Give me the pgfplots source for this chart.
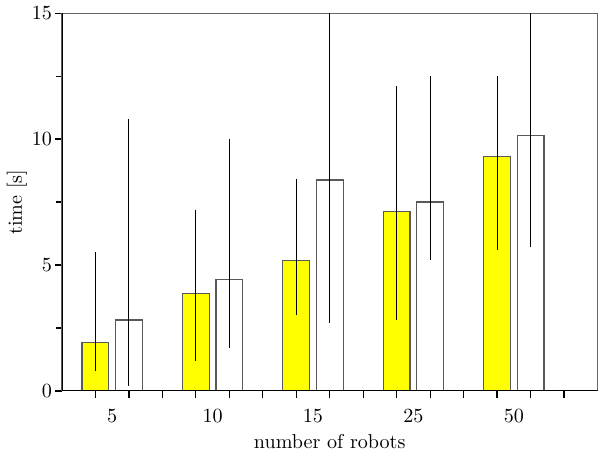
\documentclass[border=0pt]{standalone}
\usepackage{pgfplots}
\pgfplotsset{compat=1.18}
\definecolor{pureyellow}{rgb}{1,1,0}
\begin{document}
\begin{tikzpicture}
\begin{axis}[
  scale only axis, width=266.5pt, height=188pt,
  xmin=0, xmax=16, ymin=0, ymax=15,
  axis line style={gray!80!black, line width=0.5pt},
  tick align=outside, tick pos=left,
  xtick={1,...,15}, xticklabels={},
  extra x ticks={1.5,4.5,7.5,10.5,13.5},
  extra x tick labels={5,10,15,25,50},
  extra x tick style={major tick length=0pt, tick style={draw=none},
     xticklabel style={yshift=-5.5pt}},
  yticklabel style={xshift=2pt},
  ytick={0,5,10,15}, minor ytick={2.5,7.5,12.5},
  major tick length=3.5pt, minor tick length=3pt,
  every tick/.style={black, line width=0.6pt},
  xlabel={number of robots}, ylabel={time [s]},
  every axis x label/.style={at={([yshift=-28.5pt]axis description cs:0.5,0)}, anchor=base},
  every axis y label/.style={at={([xshift=-22.5pt]axis description cs:0,0.5)}, anchor=center, rotate=90},
  bar width=0.8,
  error bars/error bar style={black, line width=0.5pt},
]
\addplot[ybar, bar shift=0pt, fill=pureyellow, draw=gray!70!black, line width=0.6pt,
  error bars/.cd, y dir=both, y explicit, error mark=none]
coordinates {
 (1,1.92) += (0,3.58) -= (0,1.12)
 (4,3.88) += (0,3.32) -= (0,2.68)
 (7,5.19) += (0,3.23) -= (0,2.19)
 (10,7.14) += (0,4.96) -= (0,4.34)
 (13,9.32) += (0,3.18) -= (0,3.72)
};
\addplot[ybar, bar shift=0pt, fill=white, draw=gray!70!black, line width=0.6pt,
  error bars/.cd, y dir=both, y explicit, error mark=none]
coordinates {
 (2,2.82) += (0,7.98) -= (0,2.62)
 (5,4.43) += (0,5.57) -= (0,2.73)
 (8,8.38) += (0,7.62) -= (0,5.68)
 (11,7.50) += (0,5.00) -= (0,2.30)
 (14,10.14) += (0,5.86) -= (0,4.44)
};
\draw[black, line width=0.8pt] (rel axis cs:0,1) -- (rel axis cs:0,0) -- (rel axis cs:1,0);
\end{axis}
\end{tikzpicture}
\end{document}
